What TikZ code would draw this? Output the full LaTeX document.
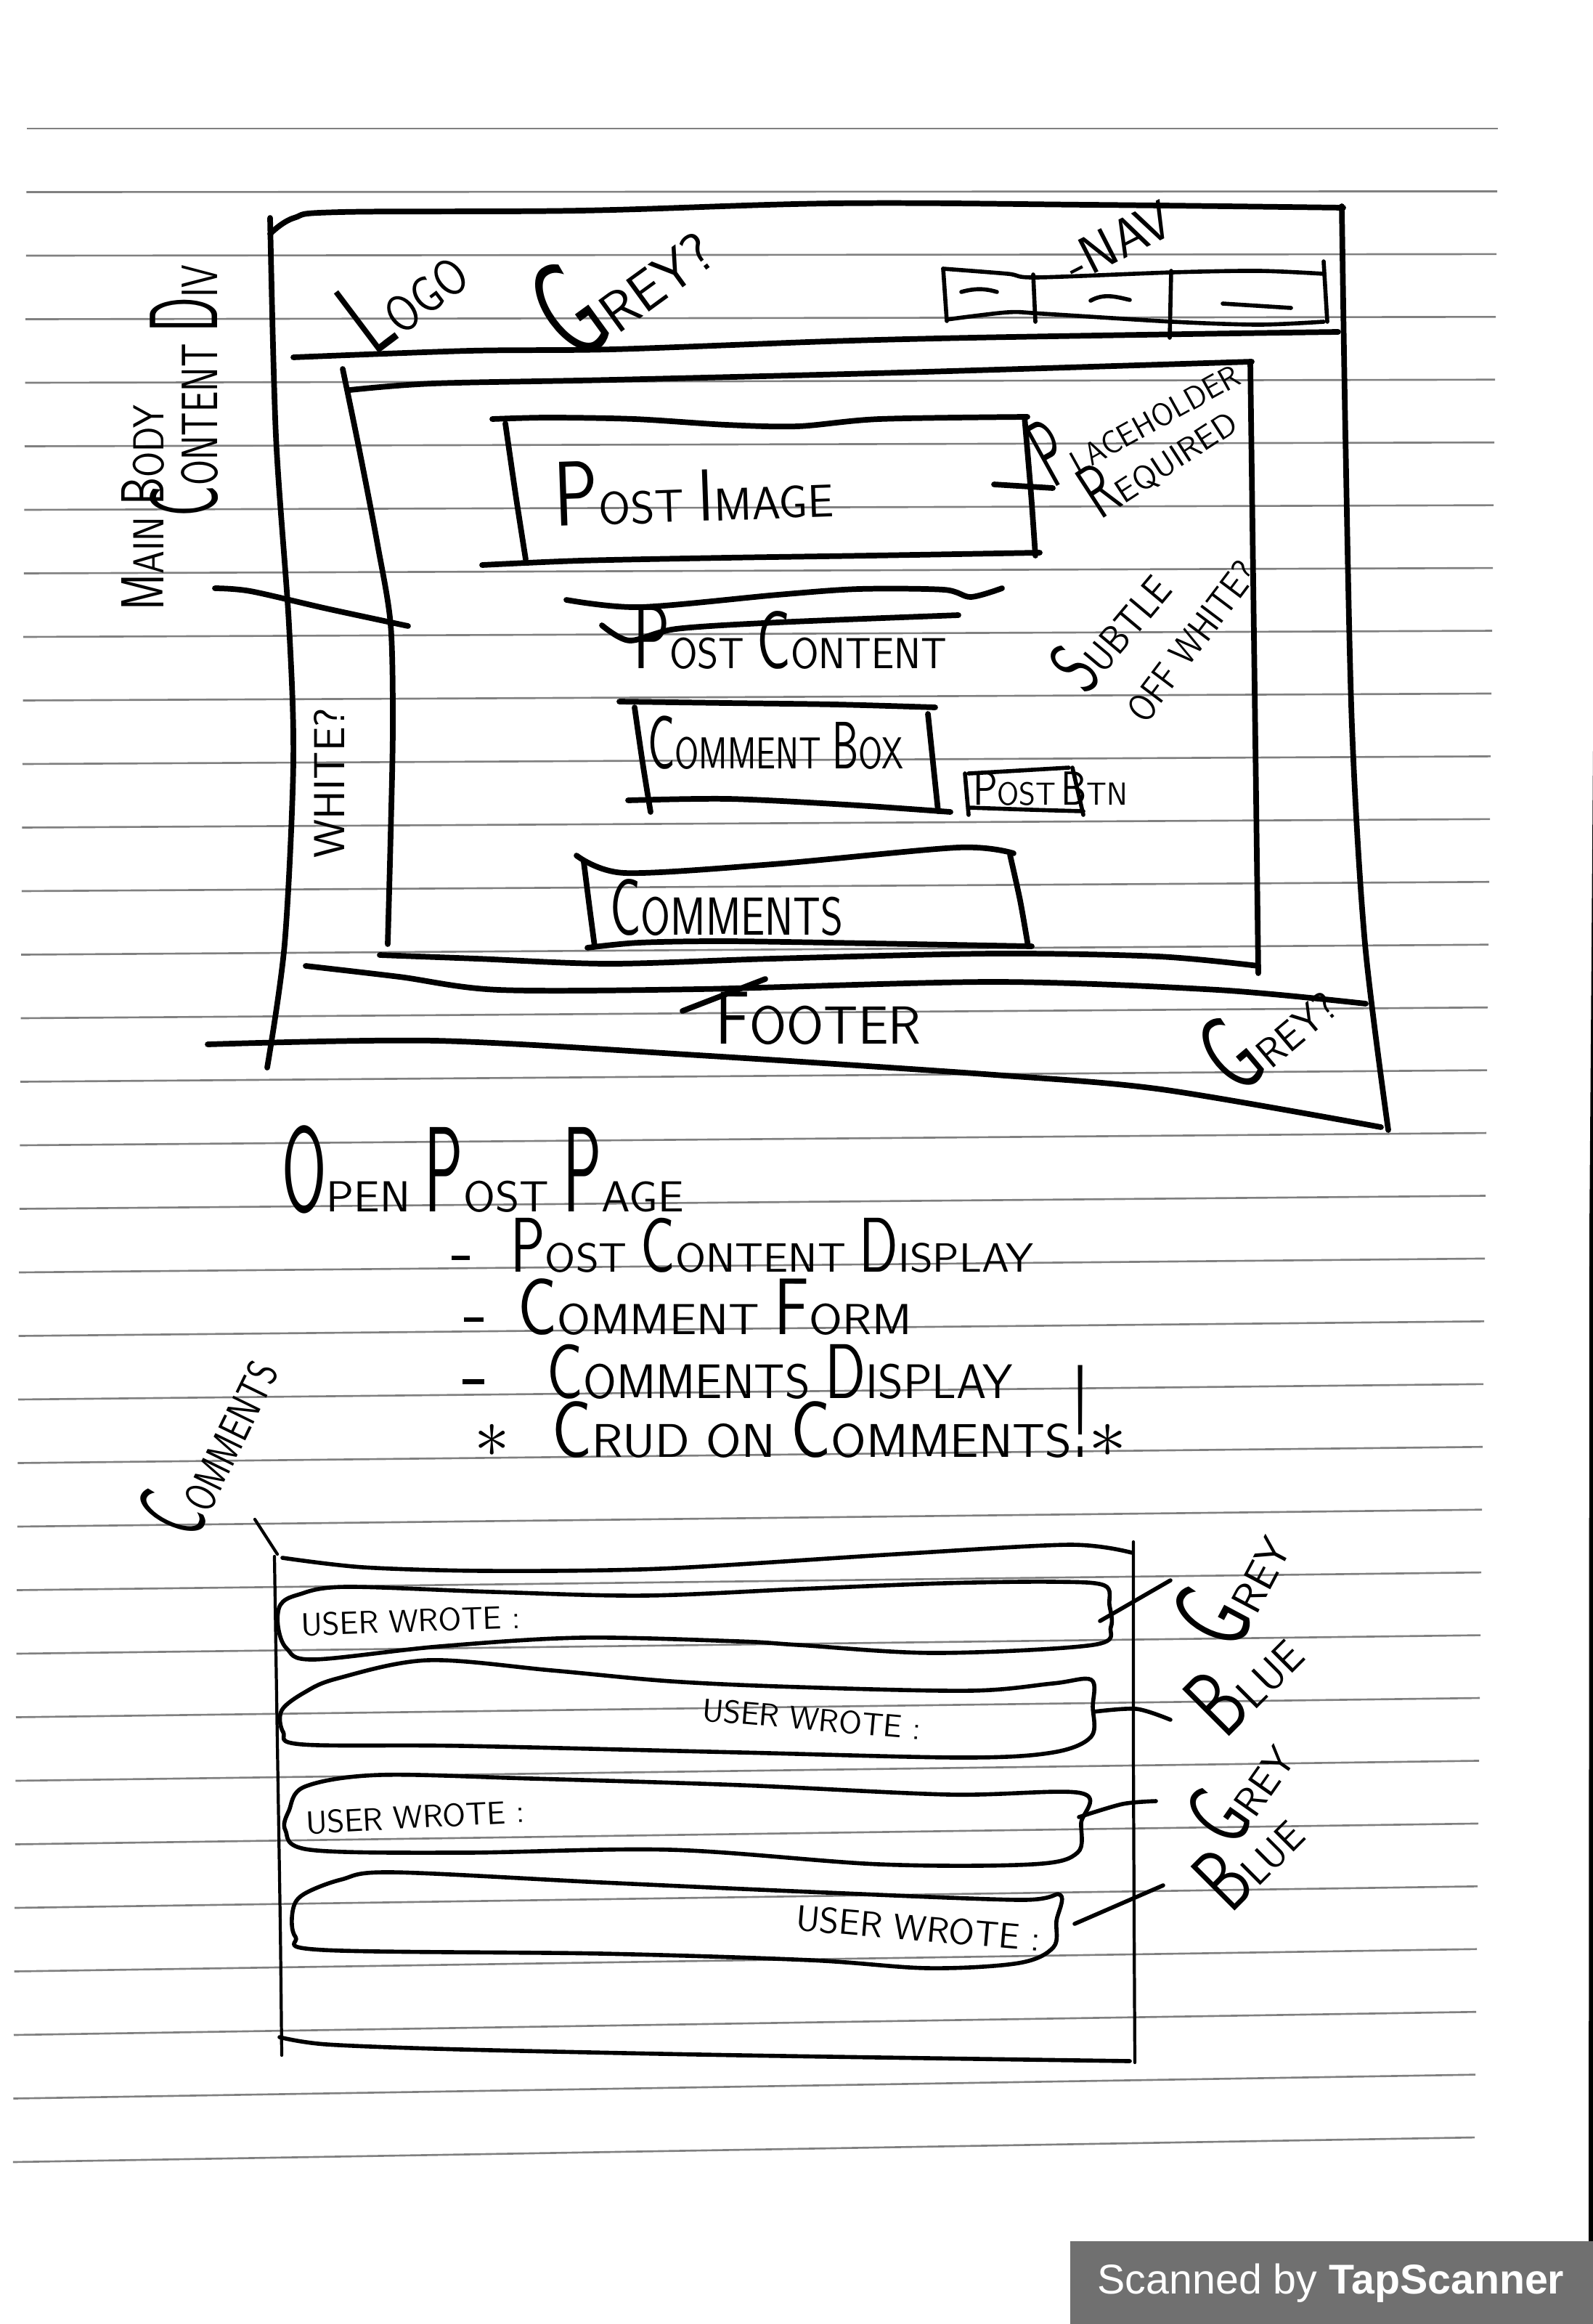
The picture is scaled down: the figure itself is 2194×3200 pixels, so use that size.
\documentclass[tikz,border=0pt]{standalone}
\usepackage{fontspec}
\usepackage{graphicx}
\newfontfamily\bannerfont{Liberation Sans}
% a tall first letter, as in hand-printed small capitals
\newcommand{\Bg}[3]{\scalebox{#1}[#2]{#3}}
% horizontal squeeze of a whole line of lettering
\newcommand{\Sx}[2]{\scalebox{#1}[1]{#2}}
% short heavy dash for list items
\newcommand{\Dash}{\rule[0.28em]{0.45em}{0.11em}}
\definecolor{bannergray}{RGB}{112,112,112}
\begin{document}
\begin{tikzpicture}[x=0.01cm,y=-0.01cm,
  ink/.style={line width=2.2pt,line cap=round,line join=round},
  fine/.style={line width=1.6pt,line cap=round,line join=round},
  hair/.style={line width=1.2pt,line cap=round,line join=round},
  rule/.style={line width=0.75pt,black!50},
  hw/.style={font=\sffamily\fontsize{#1}{#1}\selectfont,inner sep=0pt,outer sep=0pt},
]
\useasboundingbox (0,0) rectangle (2194,3200);
\fill[white] (0,0) rectangle (2194,3200);

% ruled notebook paper
\foreach \k in {0,...,32}
  \draw[rule] ({37-0.6*\k},{177+87.5*\k}) -- ({2063-\k},{177+86.44*\k});

% paper edge and scanner banner
\fill[black] (2194,1030) -- (2192,1300) -- (2189,1700) -- (2188,3086) -- (2194,3086) -- cycle;
\fill[bannergray] (1474,3086) rectangle (2194,3200);
\node[text=white,font=\bannerfont\fontsize{16.3}{18}\selectfont,anchor=base,inner sep=0pt] (scan) at (1833,3158) {Scanned by \textbf{TapScanner}};

% ---------- page wireframe ----------
% outer frame
\draw[ink] plot[smooth,tension=0.6] coordinates {(372,322) (405,300) (470,292) (800,290) (1150,280) (1500,282) (1850,286)};
\draw[ink] plot[smooth] coordinates {(372,300) (380,600) (398,860) (404,1050) (392,1300) (368,1470)};
\draw[ink] plot[smooth] coordinates {(1848,284) (1853,600) (1862,1000) (1880,1300) (1912,1556)};
% header rule
\draw[ink] plot[smooth] coordinates {(404,492) (647,483) (844,481) (1141,470) (1339,465) (1635,460) (1843,457)};
% navigation bar
\draw[fine] plot[smooth] coordinates {(1299,370) (1388,377) (1427,382) (1615,375) (1734,373) (1823,377)};
\draw[fine] plot[smooth] coordinates {(1304,440) (1388,430) (1437,432) (1615,443) (1734,447) (1823,443)};
\draw[fine] (1299,370) -- (1304,442);
\draw[fine] (1823,360) -- (1828,443);
\draw[fine] (1423,378) -- (1426,443);
\draw[fine] (1613,373) -- (1611,465);
\draw[fine] (1324,402) .. controls (1345,396) and (1360,398) .. (1373,402);
\draw[fine] (1502,414) .. controls (1520,404) and (1535,408) .. (1556,413);
\draw[fine] (1684,418) -- (1778,424);

\node[hw=20,rotate=37] (logo) at (553,400) {\Sx{0.87}{\Bg{1.5}{2.1}{L}OGO}};
\node[hw=22,rotate=36] (hdrgrey) at (852,378) {\Bg{1.5}{2.5}{G}REY?};
\node[hw=21,rotate=27] (nav) at (1540,332) {-NAV};

% main body content div
\draw[ink] plot[smooth] coordinates {(482,537) (597,528) (844,523) (1240,513) (1724,498)};
\draw[ink] plot[smooth] coordinates {(472,508) (495,620) (520,750) (538,860) (541,1000) (538,1150) (534,1300)};
\draw[ink] plot[smooth] coordinates {(523,1315) (656,1320) (840,1327) (1064,1320) (1370,1313) (1595,1317) (1733,1330)};
\draw[ink] plot[smooth] coordinates {(1722,498) (1726,800) (1730,1100) (1733,1340)};

\node[hw=17,rotate=90] (mainbody) at (197,699) {\Sx{0.85}{\Bg{1.2}{1.4}{M}AIN \Bg{1.2}{1.4}{B}ODY}};
\node[hw=20,rotate=90] (contentdiv) at (254,538) {\Sx{0.72}{\Bg{1.4}{1.9}{C}ONTENT \Bg{1.4}{1.9}{D}IV}};
\coordinate (mbtip) at (296,810);
\draw[ink] plot[smooth] coordinates {(mbtip) (345,814) (450,838) (562,862)};
\node[hw=17,rotate=90] (white) at (454,1078) {WHITE?};

% post image
\draw[ink] plot[smooth] coordinates {(678,577) (755,575) (874,577) (1001,585) (1099,587) (1211,577) (1415,574)};
\draw[ink] plot[smooth] coordinates {(1411,574) (1420,680) (1426,765)};
\draw[ink] plot[smooth] coordinates {(664,778) (800,772) (1000,768) (1200,765) (1432,761)};
\draw[ink] plot[smooth] coordinates {(696,583) (710,680) (724,770)};
\node[hw=18,anchor=base,rotate=2] (postimage) at (957,718) {\Bg{1.6}{2.0}{P}OST \Bg{1.3}{1.6}{I}MAGE};
\node[hw=12.5,anchor=base west,rotate=29] (placeholder) at (1450,672) {\Sx{0.95}{\Bg{1.5}{3.0}{P}LACEHOLDER}};
\node[hw=13,anchor=base west,rotate=33] (required) at (1515,716) {\Sx{1.0}{\Bg{1.4}{2.3}{R}EQUIRED}};
\draw[ink] (1369,667) -- (placeholder.base west);

% post content
\draw[ink] plot[smooth] coordinates {(780,826) (881,836) (1071,819) (1183,811) (1300,812) (1337,822) (1380,810)};
\draw[ink] plot[smooth] coordinates {(829,861) (867,882) (931,866) (1071,857) (1320,847)};
\node[hw=17,anchor=base west] (postcontent) at (872,920) {\Sx{0.93}{\Bg{1.5}{2.1}{P}OST \Bg{1.4}{1.9}{C}ONTENT}};

% comment box and post button
\draw[ink] plot[smooth] coordinates {(853,966) (1000,968) (1150,970) (1288,974)};
\draw[ink] plot[smooth] coordinates {(874,974) (885,1050) (896,1118)};
\draw[ink] plot[smooth] coordinates {(1278,983) (1285,1050) (1292,1117)};
\draw[ink] plot[smooth] coordinates {(865,1102) (1003,1100) (1166,1108) (1309,1118)};
\node[hw=17.5,anchor=base west] (commentbox) at (892,1058) {\Sx{0.78}{\Bg{1.3}{1.7}{C}OMMENT \Bg{1.2}{1.5}{B}OX}};
\draw[fine] plot[smooth] coordinates {(1334,1065) (1370,1063) (1472,1057)};
\draw[fine] (1329,1065) -- (1334,1122);
\draw[fine] (1477,1057) -- (1492,1122);
\draw[fine] plot[smooth] coordinates {(1334,1112) (1421,1115) (1492,1117)};
\node[hw=12.5,anchor=base west] (postbtn) at (1340,1108) {\Sx{0.95}{\Bg{1.3}{1.5}{P}OST\,\Bg{1.3}{1.5}{B}TN}};

% comments
\draw[ink] plot[smooth] coordinates {(794,1178) (860,1202) (1064,1190) (1319,1167) (1396,1175)};
\draw[ink] plot[smooth] coordinates {(804,1187) (812,1250) (819,1303)};
\draw[ink] plot[smooth] coordinates {(1391,1177) (1405,1240) (1416,1303)};
\draw[ink] plot[smooth] coordinates {(809,1305) (880,1298) (1000,1296) (1200,1299) (1421,1303)};
\node[hw=21,anchor=base west] (comments) at (840,1287) {\Sx{0.8}{\Bg{1.2}{1.5}{C}OMMENTS}};

\node[hw=16,anchor=base west,rotate=50] (subtle) at (1496,958) {\Sx{0.9}{\Bg{1.4}{1.9}{S}UBTLE}};
\node[hw=15,anchor=base west,rotate=53] (offwhite) at (1578,998) {\Sx{0.86}{OFF WHITE?}};

% footer
\draw[ink] plot[smooth] coordinates {(421,1330) (550,1345) (687,1363) (962,1362) (1370,1352) (1677,1363) (1881,1382)};
\draw[ink] plot[smooth] coordinates {(286,1438) (600,1433) (962,1453) (1370,1480) (1600,1500) (1902,1552)};
\node[hw=21,anchor=base west] (footer) at (985,1437) {\Bg{1.2}{1.4}{F}OOTER};
\draw[ink] (940,1392) -- (1054,1348);
\node[hw=16,rotate=40] (ftgrey) at (1742,1412) {\Bg{1.7}{2.7}{G}REY?};

% ---------- notes ----------
\node[hw=17,anchor=base west] (openpost) at (388,1668) {\Sx{1.06}{\Bg{1.4}{2.8}{O}PEN \Bg{1.4}{2.8}{P}OST \Bg{1.4}{2.8}{P}AGE}};
\node[hw=16,anchor=base west] (item1) at (622,1751) {\Dash\hspace{1em}\Sx{1.08}{\Bg{1.3}{1.9}{P}OST \Bg{1.3}{1.9}{C}ONTENT \Bg{1.3}{1.9}{D}ISPLAY}};
\node[hw=17,anchor=base west] (item2) at (639,1837) {\Dash\hspace{0.8em}\Sx{1.11}{\Bg{1.35}{1.85}{C}OMMENT \Bg{1.35}{1.85}{F}ORM}};
\node[hw=19,anchor=base west] (item3) at (637,1925) {\Dash\hspace{1.3em}\Sx{0.99}{\Bg{1.25}{1.6}{C}OMMENTS \Bg{1.25}{1.6}{D}ISPLAY}};
\node[hw=18.5,anchor=base west] (item4) at (653,2006) {\Bg{1.6}{1.6}{$\ast$}\hspace{0.9em}\Sx{1.08}{\Bg{1.3}{1.7}{C}RUD ON \Bg{1.3}{1.7}{C}OMMENTS\Bg{1.1}{2.8}{!}\Bg{1.6}{1.6}{$\ast$}}};

% ---------- comment thread ----------
\node[hw=17,rotate=64] (commentslabel) at (285,1985) {\Sx{0.78}{\Bg{1.5}{2.3}{C}OMMENTS}};
\coordinate (thread) at (382,2140);
\draw[hair] (351,2092) -- (thread);
\draw[hair] plot[smooth] coordinates {(378,2143) (382,2400) (386,2650) (388,2830)};
\draw[hair] plot[smooth] coordinates {(1561,2123) (1561,2400) (1562,2650) (1563,2840)};
\draw[fine] plot[smooth] coordinates {(389,2145) (500,2158) (670,2163) (909,2160) (1234,2140) (1473,2127) (1559,2138)};
\draw[fine] plot[smooth] coordinates {(385,2805) (450,2815) (637,2822) (1020,2830) (1556,2838)};

\draw[fine] plot[smooth cycle,tension=0.55] coordinates {(410,2196) (475,2185) (680,2192) (887,2197) (1100,2188) (1300,2180) (1451,2178) (1521,2183) (1528,2210) (1530,2240) (1505,2265) (1288,2276) (1100,2265) (1017,2260) (800,2255) (605,2267) (432,2285) (395,2270) (383,2240) (386,2210)};
\draw[fine] plot[smooth cycle,tension=0.55] coordinates {(388,2355) (420,2330) (465,2311) (589,2286) (760,2300) (924,2315) (1100,2323) (1336,2328) (1450,2318) (1503,2313) (1505,2350) (1503,2391) (1450,2413) (1326,2420) (1020,2413) (637,2404) (417,2402) (390,2385)};
\draw[fine] plot[smooth cycle,tension=0.55] coordinates {(398,2493) (420,2460) (522,2444) (733,2449) (1020,2458) (1307,2471) (1489,2469) (1489,2510) (1484,2551) (1422,2567) (1211,2567) (924,2547) (637,2551) (427,2547) (393,2520)};
\draw[fine] plot[smooth cycle,tension=0.55] coordinates {(403,2632) (417,2609) (470,2588) (541,2578) (829,2592) (1116,2605) (1403,2616) (1460,2609) (1455,2645) (1451,2681) (1403,2703) (1278,2710) (1116,2699) (829,2690) (446,2685) (407,2667)};

\node[hw=12.5,rotate=2] (uw1) at (566,2232) {USER WROTE :};
\node[hw=12.5,rotate=-5] (uw2) at (1118,2367) {USER WROTE :};
\node[hw=12.5,rotate=3] (uw3) at (572,2502) {USER WROTE :};
\node[hw=14,rotate=-5] (uw4) at (1265,2655) {USER WROTE :};

\node[hw=17,rotate=62] (lgrey1) at (1694,2180) {\Bg{1.6}{2.6}{G}REY};
\node[hw=17,rotate=45] (lblue1) at (1712,2308) {\Bg{1.5}{2.2}{B}LUE};
\node[hw=16,rotate=55] (lgrey2) at (1706,2460) {\Bg{1.5}{2.3}{G}REY};
\node[hw=16,rotate=45] (lblue2) at (1718,2554) {\Bg{1.5}{2.2}{B}LUE};

\draw[fine] (1515,2232) -- (1612,2176);
\draw[fine] plot[smooth] coordinates {(1506,2357) (1565,2353) (1612,2368)};
\draw[fine] plot[smooth] coordinates {(1486,2502) (1546,2484) (1592,2480)};
\draw[fine] (1480,2649) -- (1602,2596);
\end{tikzpicture}
\end{document}
